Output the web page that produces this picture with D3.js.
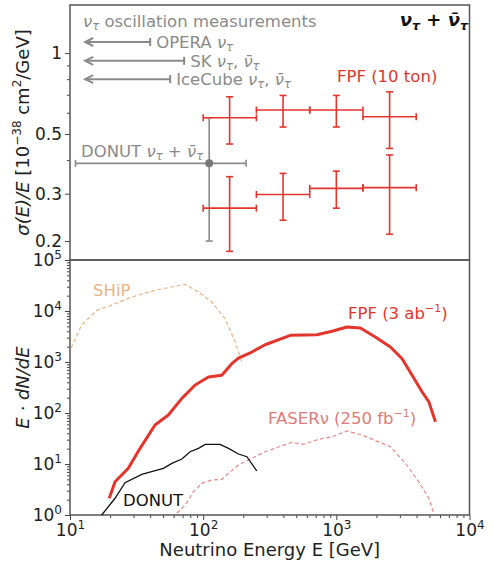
<!DOCTYPE html>
<html>
<head>
<meta charset="utf-8">
<script src="https://cdn.jsdelivr.net/npm/d3@7"></script>
<style>
  body { margin: 0; background: #fff; }
  svg { display: block; }
  .axis path, .axis line { stroke: #444; }
  .axis text { font-family: "DejaVu Sans", sans-serif; font-size: 17px; fill: #222; }
  .ann { font-family: "DejaVu Sans", sans-serif; font-size: 16.5px; }
</style>
</head>
<body>
<svg id="chart" width="494" height="562"></svg>
<script>
// ---- top panel: cross section / E ----
var binEdges = [100, 251, 631, 1585, 3981];
var binCenters = [158, 398, 1000, 2512];
var fpfUpper = [0.575, 0.614, 0.614, 0.580];
var fpfUpperHi = [0.688, 0.696, 0.696, 0.718];
var fpfUpperLo = [0.459, 0.531, 0.531, 0.442];
var fpfLower = [0.265, 0.298, 0.314, 0.316];
var fpfLowerHi = [0.347, 0.357, 0.364, 0.418];
var fpfLowerLo = [0.183, 0.239, 0.265, 0.212];

var donutE = 111, donutELo = 11, donutEHi = 210;
var donutVal = 0.389, donutHi = 0.575, donutLo = 0.2;

var oscNames = ['OPERA', 'SK', 'IceCube'];
var oscEmax = [40, 72, 56.5];
var oscY = [1.10, 0.936, 0.80];
var oscEmin = 13;

var topTicks = [0.2, 0.3, 0.5, 1];
var topMinor = [0.4, 0.6, 0.7, 0.8, 0.9];

// ---- bottom panel: E dN/dE spectra ----
var shipE = [10.2, 12.2, 15.9, 21.8, 29.1, 43.5, 73.3, 92.3, 116, 146, 174, 195];
var shipN = [1880, 5240, 10300, 13900, 18800, 25500, 33400, 23600, 15000, 7060, 2470, 1000];

var fpfE = [19.7, 21.8, 25.2, 27.4, 33.6, 43.5, 54.8, 69.2, 87.1, 109.6, 138, 164, 184, 232, 292, 451, 716, 928, 1203, 1514, 1963, 2546, 3119, 3707, 4409, 4946, 5548];
var fpfN = [2.13, 4.5, 6.57, 8.24, 20.3, 58.2, 91.4, 194, 354, 508, 548, 926, 1197, 1570, 2180, 3340, 3430, 4000, 4860, 4640, 3090, 1970, 1160, 548, 258, 167, 67.5];

var donutSpecE = [17.3, 21.8, 25.9, 34.6, 42.3, 50.3, 58.2, 69.2, 79.8, 92.2, 103.5, 134, 155, 184, 213, 253];
var donutSpecN = [1.0, 2.13, 4.3, 6.28, 7.29, 8.24, 10.3, 12.5, 17.4, 20.3, 24.3, 24.3, 20.3, 15.7, 13.9, 7.29];

var faserE = [63.4, 73.3, 84.5, 97.7, 116, 138, 155, 184, 232, 292, 464, 568, 736, 928, 1203, 1560, 2546, 3302, 4156, 4946, 5395];
var faserN = [1.08, 1.57, 2.86, 4.18, 4.86, 5.01, 6.57, 9.56, 12.9, 17.4, 26.6, 24.3, 30.5, 34.3, 44.4, 37.0, 21.8, 10.3, 4.5, 2.13, 1.08];

var xTicks = [10, 100, 1000, 10000];
var bottomTicks = [1, 10, 100, 1000, 10000, 100000];

var red = '#e3352c', grey = '#8a8a8a';

var svg = d3.select('#chart');
var left = 70, right = 469.5, top1 = 5, mid = 260, bottom = 515;

var x = d3.scaleLog().domain([10, 1e4]).range([left, right]);
var yTop = d3.scaleLog().domain([0.17, 1.51]).range([mid, top1]);
var yBot = d3.scaleLog().domain([1, 1e5]).range([bottom, mid]);

function minorLog(lo, hi) {
  var out = [];
  for (var p = lo; p < hi; p++) {
    for (var k = 2; k <= 9; k++) out.push(k * Math.pow(10, p));
  }
  return out;
}

function powLabel(sel) {
  sel.each(function(d) {
    var t = d3.select(this);
    t.text('10');
    t.append('tspan').attr('dy', '-0.55em').attr('font-size', '12px')
      .text(Math.round(Math.log10(d)));
  });
}

// ---- axes ----
svg.append('g').attr('class', 'axis')
  .attr('transform', 'translate(' + left + ',0)')
  .call(d3.axisLeft(yTop).tickValues(topTicks).tickFormat(d3.format('')).tickSizeOuter(0).tickSize(5))
  .call(function(g) { g.select('.domain').remove(); });
svg.append('g').attr('class', 'axis')
  .attr('transform', 'translate(' + left + ',0)')
  .call(d3.axisLeft(yTop).tickValues(topMinor).tickFormat('').tickSize(3))
  .call(function(g) { g.select('.domain').remove(); g.selectAll('text').remove(); });

svg.append('g').attr('class', 'axis')
  .attr('transform', 'translate(' + left + ',0)')
  .call(d3.axisLeft(yBot).tickValues(bottomTicks).tickSize(5))
  .call(function(g) { g.select('.domain').remove(); g.selectAll('text').call(powLabel); });
svg.append('g').attr('class', 'axis')
  .attr('transform', 'translate(' + left + ',0)')
  .call(d3.axisLeft(yBot).tickValues(minorLog(0, 5)).tickFormat('').tickSize(3))
  .call(function(g) { g.select('.domain').remove(); g.selectAll('text').remove(); });

svg.append('g').attr('class', 'axis')
  .attr('transform', 'translate(0,' + bottom + ')')
  .call(d3.axisBottom(x).tickValues(xTicks).tickSize(5).tickPadding(4))
  .call(function(g) { g.select('.domain').remove(); g.selectAll('text').call(powLabel); });
svg.append('g').attr('class', 'axis')
  .attr('transform', 'translate(0,' + bottom + ')')
  .call(d3.axisBottom(x).tickValues(minorLog(1, 4)).tickFormat('').tickSize(3))
  .call(function(g) { g.select('.domain').remove(); g.selectAll('text').remove(); });

// frames
svg.append('rect').attr('x', left).attr('y', top1).attr('width', right - left).attr('height', mid - top1)
  .attr('fill', 'none').attr('stroke', '#555').attr('stroke-width', 1.5);
svg.append('rect').attr('x', left).attr('y', mid).attr('width', right - left).attr('height', bottom - mid)
  .attr('fill', 'none').attr('stroke', '#555').attr('stroke-width', 1.5);

// axis labels
var yl1 = svg.append('text').attr('transform', 'translate(29,' + ((top1 + mid) / 2) + ') rotate(-90)')
  .attr('text-anchor', 'middle').attr('font-family', 'DejaVu Sans').attr('font-size', 18).attr('fill', '#222');
yl1.append('tspan').attr('font-style', 'italic').text('σ(E)/E');
yl1.append('tspan').text('  [10');
yl1.append('tspan').attr('dy', -8).attr('font-size', 12).text('−38');
yl1.append('tspan').attr('dy', 8).text(' cm');
yl1.append('tspan').attr('dy', -8).attr('font-size', 12).text('2');
yl1.append('tspan').attr('dy', 8).text('/GeV]');

svg.append('text').attr('transform', 'translate(29,' + ((mid + bottom) / 2) + ') rotate(-90)')
  .attr('text-anchor', 'middle').attr('font-family', 'DejaVu Sans').attr('font-size', 18)
  .attr('font-style', 'italic').attr('fill', '#222').text('E · dN/dE');

svg.append('text').attr('x', (left + right) / 2).attr('y', 556)
  .attr('text-anchor', 'middle').attr('font-family', 'DejaVu Sans').attr('font-size', 18).attr('fill', '#222')
  .text('Neutrino Energy E [GeV]');

// ---- top panel marks ----
function errCross(g, cx, cy, x0, x1, y0, y1, color, lw) {
  var cap = 3.5;
  var segs = [
    [x(x0), yTop(cy), x(x1), yTop(cy)],
    [x(cx), yTop(y0), x(cx), yTop(y1)],
    [x(x0), yTop(cy) - cap, x(x0), yTop(cy) + cap],
    [x(x1), yTop(cy) - cap, x(x1), yTop(cy) + cap],
    [x(cx) - cap, yTop(y0), x(cx) + cap, yTop(y0)],
    [x(cx) - cap, yTop(y1), x(cx) + cap, yTop(y1)]
  ];
  g.selectAll(null).data(segs).enter().append('line')
    .attr('x1', function(d) { return d[0]; }).attr('y1', function(d) { return d[1]; })
    .attr('x2', function(d) { return d[2]; }).attr('y2', function(d) { return d[3]; })
    .attr('stroke', color).attr('stroke-width', lw);
}

var topG = svg.append('g');
errCross(topG, donutE, donutVal, donutELo, donutEHi, donutLo, donutHi, grey, 1.6);
topG.append('circle').attr('cx', x(donutE)).attr('cy', yTop(donutVal)).attr('r', 4).attr('fill', '#777');

binCenters.forEach(function(c, i) {
  errCross(topG, c, fpfUpper[i], binEdges[i], binEdges[i + 1], fpfUpperLo[i], fpfUpperHi[i], red, 1.6);
  errCross(topG, c, fpfLower[i], binEdges[i], binEdges[i + 1], fpfLowerLo[i], fpfLowerHi[i], red, 1.6);
});

// oscillation arrows
oscEmax.forEach(function(e, i) {
  var yy = yTop(oscY[i]), x0 = x(oscEmin), x1 = x(e);
  topG.append('line').attr('x1', x0).attr('x2', x1).attr('y1', yy).attr('y2', yy)
    .attr('stroke', grey).attr('stroke-width', 2);
  topG.append('line').attr('x1', x1).attr('x2', x1).attr('y1', yy - 4).attr('y2', yy + 4)
    .attr('stroke', grey).attr('stroke-width', 2);
  topG.append('path').attr('d', 'M' + (x0 + 8) + ',' + (yy - 4) + 'L' + x0 + ',' + yy + 'L' + (x0 + 8) + ',' + (yy + 4))
    .attr('fill', 'none').attr('stroke', grey).attr('stroke-width', 2);
});

// nu / tau label with subscript, shifts in pixels
function nuLabel(t, parts, sub) {
  var back = 0;
  parts.forEach(function(p) {
    var ts = t.append('tspan');
    if (p === 'tau') {
      ts.attr('dy', sub + back).attr('font-size', '0.7em').attr('font-style', 'italic').text('τ');
      back = -sub;
      return;
    }
    if (back) ts.attr('dy', back);
    back = 0;
    if (p === 'nu') ts.attr('font-style', 'italic').text('ν');
    else if (p === 'nubar') ts.attr('font-style', 'italic').text('ν̄');
    else ts.text(p);
  });
}

var t;
t = svg.append('text').attr('class', 'ann').attr('x', 83).attr('y', 27).attr('fill', grey);
nuLabel(t, ['nu', 'tau', ' oscillation measurements'], 3);
t = svg.append('text').attr('class', 'ann').attr('x', x(oscEmax[0]) + 6).attr('y', yTop(oscY[0]) + 6).attr('fill', grey);
nuLabel(t, ['OPERA ', 'nu', 'tau'], 3);
t = svg.append('text').attr('class', 'ann').attr('x', x(oscEmax[1]) + 6).attr('y', yTop(oscY[1]) + 6).attr('fill', grey);
nuLabel(t, ['SK ', 'nu', 'tau', ', ', 'nubar', 'tau'], 3);
t = svg.append('text').attr('class', 'ann').attr('x', x(oscEmax[2]) + 6).attr('y', yTop(oscY[2]) + 6).attr('fill', grey);
nuLabel(t, ['IceCube ', 'nu', 'tau', ', ', 'nubar', 'tau'], 3);
t = svg.append('text').attr('class', 'ann').attr('x', 81).attr('y', 157).attr('fill', grey);
nuLabel(t, ['DONUT ', 'nu', 'tau', ' + ', 'nubar', 'tau'], 3);

svg.append('text').attr('class', 'ann').attr('x', 337).attr('y', 82).attr('fill', red).text('FPF (10 ton)');

t = svg.append('text').attr('x', 468).attr('y', 26).attr('text-anchor', 'end')
  .attr('font-family', 'DejaVu Sans').attr('font-size', 18).attr('font-weight', 'bold').attr('fill', '#111');
nuLabel(t, ['nu', 'tau', ' + ', 'nubar', 'tau'], 4);

// ---- bottom panel curves ----
var line = d3.line().x(function(d) { return x(d[0]); }).y(function(d) { return yBot(d[1]); });
var botG = svg.append('g');
botG.append('path').datum(d3.zip(shipE, shipN)).attr('d', line)
  .attr('fill', 'none').attr('stroke', '#e8b486').attr('stroke-width', 1.2).attr('stroke-dasharray', '4,2.5');
botG.append('path').datum(d3.zip(faserE, faserN)).attr('d', line)
  .attr('fill', 'none').attr('stroke', '#e88a8a').attr('stroke-width', 1.2).attr('stroke-dasharray', '4,2.5');
botG.append('path').datum(d3.zip(donutSpecE, donutSpecN)).attr('d', line)
  .attr('fill', 'none').attr('stroke', '#111').attr('stroke-width', 1.3);
botG.append('path').datum(d3.zip(fpfE, fpfN)).attr('d', line)
  .attr('fill', 'none').attr('stroke', red).attr('stroke-width', 3).attr('stroke-linejoin', 'round');

svg.append('text').attr('class', 'ann').attr('x', 93).attr('y', 296).attr('fill', '#e8b486').text('SHiP');
t = svg.append('text').attr('class', 'ann').attr('x', 348).attr('y', 319).attr('fill', red);
t.append('tspan').text('FPF (3 ab');
t.append('tspan').attr('dy', -7).attr('font-size', 11).text('−1');
t.append('tspan').attr('dy', 7).text(')');
t = svg.append('text').attr('class', 'ann').attr('x', 268).attr('y', 424).attr('fill', '#e07a7a');
t.append('tspan').text('FASERν (250 fb');
t.append('tspan').attr('dy', -7).attr('font-size', 11).text('−1');
t.append('tspan').attr('dy', 7).text(')');
svg.append('text').attr('class', 'ann').attr('x', 123).attr('y', 506).attr('fill', '#111').text('DONUT');
</script>
</body>
</html>
